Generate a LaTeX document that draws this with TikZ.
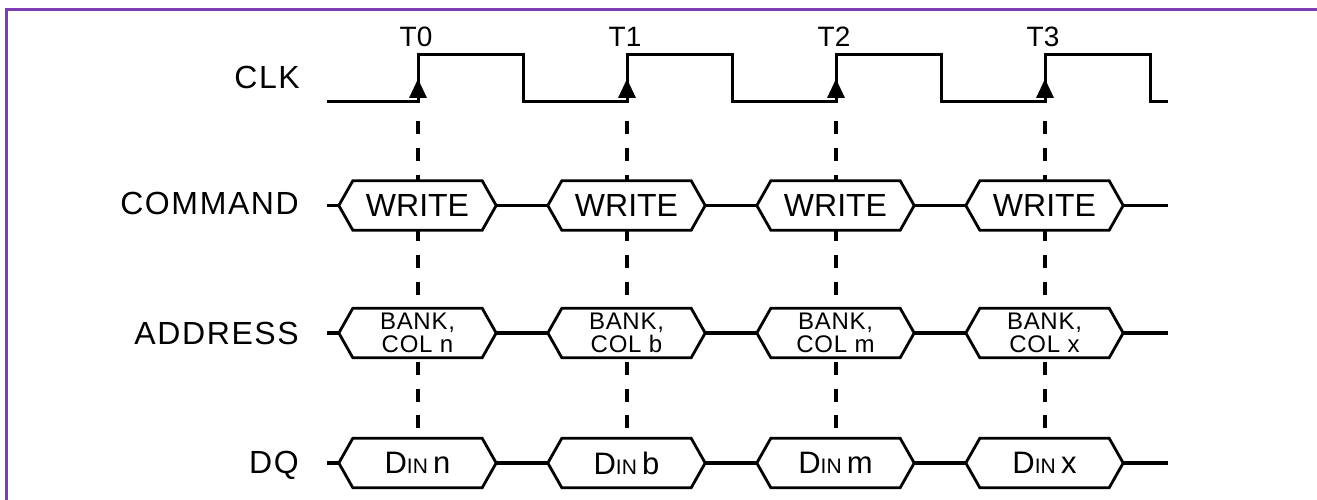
\documentclass[tikz,border=0pt]{standalone}
\usepackage{fontspec}
\setmainfont{Liberation Sans}
\usetikzlibrary{backgrounds}
\definecolor{framepurple}{RGB}{125,62,180}
\newcommand\hexof[1]{\draw[hexline] ([xshift=-14pt]#1.west) -- (#1.north west) -- (#1.north east) -- ([xshift=14pt]#1.east) -- (#1.south east) -- (#1.south west) -- cycle;}
\newcommand\dinlab[1]{{\fontsize{31}{31}\selectfont D{\fontsize{21}{21}\selectfont IN}\,#1}}
\begin{document}
\begin{tikzpicture}[x=1pt,y=-1pt,
  framel/.style={draw=framepurple,line width=2.5pt},
  clkline/.style={line width=3pt,line join=miter},
  hexline/.style={line width=2.8pt,line join=miter},
  busline/.style={line width=3.4pt},
  guide/.style={line width=3.2pt,dash pattern=on 13pt off 13.7pt},
  valbox/.style={rectangle,minimum width=129pt,minimum height=49pt,inner sep=0pt,fill=white,font=\fontsize{32}{32}\selectfont},
  addrbox/.style={valbox,align=center,font=\fontsize{24}{23}\selectfont\addfontfeature{LetterSpace=3}},
  siglab/.style={anchor=base east,inner sep=0pt,font=\fontsize{32}{32}\selectfont\addfontfeature{LetterSpace=5}},
  tlab/.style={anchor=base,inner sep=0pt,font=\fontsize{28}{28}\selectfont},
  clkarrow/.style={fill=black}
]
\useasboundingbox (0,0) rectangle (1317,500);
\draw[framel] (6.5,500) -- (6.5,9.5) -- (1317,9.5);

% signal labels
\node[siglab] (lclk) at (300,89) {CLK};
\node[siglab] (lcmd) at (299,214) {COMMAND};
\node[siglab] (ladr) at (299,344) {ADDRESS};
\node[siglab] (ldq)  at (299,473) {DQ};

% clock edges
\foreach \i/\x in {0/418,1/627,2/836,3/1045}{
  \coordinate (e\i) at (\x,102);
  \coordinate (g\i) at (\x,121.5);
  \node[tlab] (t\i) at (\x-2,47) {T\i};
}
\coordinate (clkstart) at (327,102);
\coordinate (clkend) at (1168,102);
\draw[clkline] (clkstart) -- (e0) -- ++(0,-47) -- ++(105,0) -- ++(0,47)
  -- (e1) -- ++(0,-47) -- ++(105,0) -- ++(0,47)
  -- (e2) -- ++(0,-47) -- ++(105,0) -- ++(0,47)
  -- (e3) -- ++(0,-47) -- ++(105,0) -- ++(0,47) -- (clkend);
\foreach \i in {0,1,2,3}{
  \fill[clkarrow] ([yshift=23pt]e\i) -- ([shift={(-9pt,4pt)}]e\i) -- ([shift={(9pt,4pt)}]e\i) -- cycle;
}

% value boxes
\foreach \i/\x in {0/417.5,1/626.5,2/835.5,3/1044.5}{
  \node[valbox] (c\i) at (\x,205.5) {WRITE};
}
\node[addrbox] (a0) at (417.5,333) {BANK,\\COL n};
\node[addrbox] (a1) at (626.5,333) {BANK,\\COL b};
\node[addrbox] (a2) at (835.5,333) {BANK,\\COL m};
\node[addrbox] (a3) at (1044.5,333) {BANK,\\COL x};
\node[valbox] (d0) at (417.5,463) {\dinlab{n}};
\node[valbox] (d1) at (626.5,463) {\dinlab{b}};
\node[valbox] (d2) at (835.5,463) {\dinlab{m}};
\node[valbox] (d3) at (1044.5,463) {\dinlab{x}};

\foreach \r in {c,a,d}{
  \foreach \i in {0,1,2,3}{ \hexof{\r\i} }
}

% bus lines between boxes
\foreach \r/\y in {c/205.5,a/333,d/463}{
  \draw[busline] (327,\y) -- ([xshift=-14pt]\r0.west);
  \draw[busline] ([xshift=14pt]\r0.east) -- ([xshift=-14pt]\r1.west);
  \draw[busline] ([xshift=14pt]\r1.east) -- ([xshift=-14pt]\r2.west);
  \draw[busline] ([xshift=14pt]\r2.east) -- ([xshift=-14pt]\r3.west);
  \draw[busline] ([xshift=14pt]\r3.east) -- (1168,\y);
}

% dashed guides behind the boxes
\begin{scope}[on background layer]
  \foreach \i in {0,1,2,3}{
    \draw[guide] (g\i) -- (g\i |- d\i.north);
  }
\end{scope}
\end{tikzpicture}
\end{document}
